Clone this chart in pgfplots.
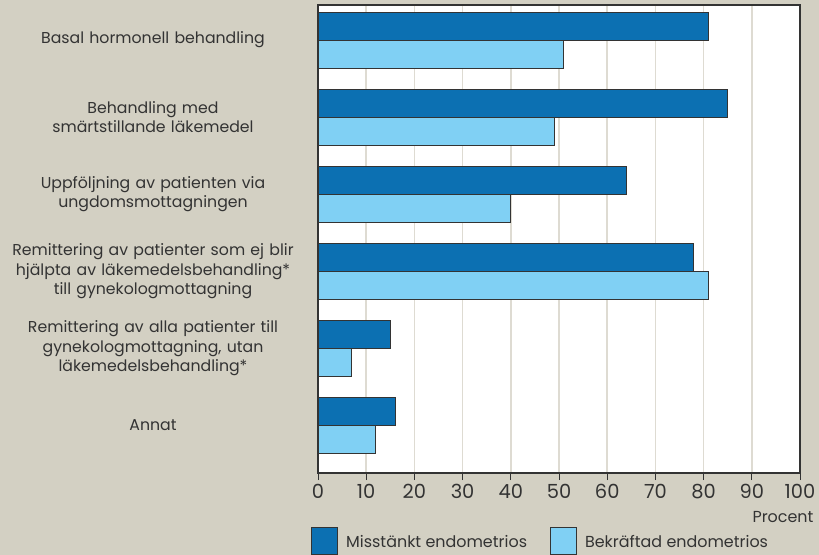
\documentclass[border=0pt]{standalone}
\usepackage{pgfplots}
\pgfplotsset{compat=1.18}
\usepackage{pgfplotstable}
\usepackage{fontspec}
\setmainfont{Poppins}
\definecolor{bgbeige}{HTML}{D3D0C3}
\definecolor{darkblue}{HTML}{0C70B2}
\definecolor{lightblue}{HTML}{80D0F4}
\definecolor{edge}{HTML}{333333}
\definecolor{gridc}{HTML}{DEDBD2}

\pgfplotstableread{
idx misstankt bekraftad
0   81  51
1   85  49
2   64  40
3   78  81
4   15  7
5   16  12
}\data

\begin{document}
\begin{tikzpicture}[x=1bp,y=1bp]
  \fill[bgbeige] (0,0) rectangle (819,555);
  \begin{axis}[
    at={(318bp,82bp)}, anchor=south west,
    scale only axis,
    width=482bp, height=468bp,
    xbar, bar width=28bp,
    y dir=reverse,
    xmin=0, xmax=100,
    ymin=-0.455, ymax=5.62,
    axis background/.style={fill=white},
    axis line style={draw=edge, line width=1.2bp},
    xtick={0,10,...,100},
    ytick={0,...,5},
    yticklabels={{Basal hormonell behandling},
      {Behandling med\\smärtstillande läkemedel},
      {Uppföljning av patienten via\\ungdomsmottagningen},
      {Remittering av patienter som ej blir\\hjälpta av läkemedelsbehandling*\\till gynekologmottagning},
      {Remittering av alla patienter till\\gynekologmottagning, utan\\läkemedelsbehandling*},
      {Annat}},
    yticklabel style={font=\fontsize{15.8}{20}\selectfont, text width=330bp, align=center, anchor=center, xshift=-158bp, text=edge},
    major y tick style={draw=none},
    xtick pos=bottom, tick align=outside,
    major tick length=7bp,
    x tick style={draw=edge, line width=1bp},
    xticklabel style={font=\fontsize{19.5}{20}\selectfont, text=edge, yshift=-1bp},
    /pgf/number format/assume math mode=true,
    xmajorgrids,
    grid style={draw=gridc, line width=1.5bp},
    xlabel={Procent},
    xlabel style={at={(rel axis cs:1,0)}, anchor=north east, xshift=17bp, yshift=-35bp, font=\fontsize{16}{18}\selectfont, text=edge},
    legend columns=2,
    legend style={at={(rel axis cs:0,0)}, anchor=north west, xshift=-10bp, yshift=-52bp,
      draw=none, fill=none, font=\fontsize{16}{18}\selectfont, text=edge,
      /tikz/every odd column/.append style={column sep=6bp},
      /tikz/every even column/.append style={column sep=21bp}},
    legend image code/.code={\draw[#1, draw=edge, line width=1bp] (0bp,-13bp) rectangle (26bp,14bp);},
  ]
    \addplot[fill=darkblue, draw=edge, line width=1bp, bar shift=14bp] table[x=misstankt, y=idx] {\data};
    \addlegendentry{Misstänkt endometrios}
    \addplot[fill=lightblue, draw=edge, line width=1bp, bar shift=-14bp] table[x=bekraftad, y=idx] {\data};
    \addlegendentry{Bekräftad endometrios}
  \end{axis}
  \pgfresetboundingbox
  \path[use as bounding box] (0,0) rectangle (819,555);
\end{tikzpicture}
\end{document}
